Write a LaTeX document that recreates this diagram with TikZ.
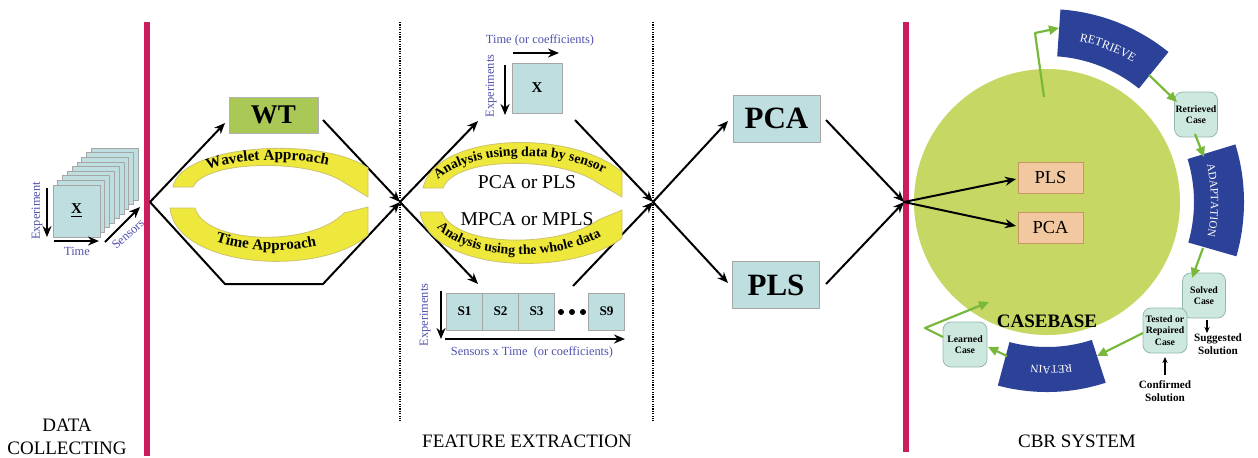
\documentclass[tikz,border=0pt]{standalone}
\usepackage{fontspec}
\setmainfont{Liberation Serif}
\usetikzlibrary{arrows.meta,decorations.text,calc}
\definecolor{barred}{RGB}{204,28,94}
\definecolor{boxblue}{RGB}{190,222,224}
\definecolor{wtgreen}{RGB}{170,200,85}
\definecolor{ylw}{RGB}{238,232,60}
\definecolor{ylwedge}{RGB}{205,195,110}
\definecolor{lblblue}{RGB}{80,80,175}
\definecolor{cbgreen}{RGB}{198,215,100}
\definecolor{sectblue}{RGB}{44,66,152}
\definecolor{casefill}{RGB}{205,232,222}
\definecolor{caseedge}{RGB}{150,185,170}
\definecolor{arrgreen}{RGB}{120,185,60}
\definecolor{peach}{RGB}{242,200,160}
\definecolor{peachedge}{RGB}{200,150,100}
\newcommand{\myfs}[2]{\fontsize{#1pt}{#2pt}\selectfont}
\begin{document}
\begin{tikzpicture}[x=0.5pt,y=-0.5pt,line join=round,
  conn/.style={line width=1pt,-{Stealth[length=5.5pt,width=4.5pt]}},
  thinarrow/.style={line width=0.6pt,-{Stealth[length=3pt,width=2.6pt]}},
  garrow/.style={draw=arrgreen,line width=1.1pt,-{Triangle[length=5pt,width=4.5pt]}},
  bbox/.style={draw=gray!70,fill=boxblue,inner sep=0pt},
  lbl/.style={text=lblblue,font=\myfs{6.2}{7},inner sep=0pt},
  ylwshape/.style={fill=ylw,draw=ylwedge,line width=0.4pt},
  casebox/.style={draw=caseedge,fill=casefill,rounded corners=4pt,inner sep=0pt,
     minimum width=21.5pt,minimum height=22.5pt,align=center,font=\bfseries\myfs{4.9}{5.6}},
  peachbox/.style={draw=peachedge,fill=peach,inner sep=0pt,minimum width=32.5pt,minimum height=15.5pt,font=\myfs{9.2}{10}},
  bigbox/.style={bbox,minimum width=43.5pt,minimum height=23.5pt,font=\bfseries\myfs{15.5}{16}},
  sbox/.style={bbox,minimum width=18pt,minimum height=18.5pt,font=\bfseries\myfs{6.6}{7}},
  dotc/.style={circle,fill=black,inner sep=0pt,minimum size=3pt},
  title/.style={font=\myfs{9.5}{11.5},align=center,inner sep=0pt},
  sect/.style={fill=sectblue}
]
\useasboundingbox (0,0) rectangle (1258,457);
\fill[white] (0,0) rectangle (1258,457);

% separators
\draw[barred,line width=3pt] (147,22) -- (147,456);
\draw[barred,line width=3pt] (906,22) -- (906,452);
\draw[line width=1pt,dash pattern=on 0.6pt off 0.6pt] (400,22) -- (400,421);
\draw[line width=1pt,dash pattern=on 0.6pt off 0.6pt] (653,22) -- (653,421);

% data stack
\foreach \i in {8,7,...,1}
  \draw[draw=gray!70,fill=boxblue] (53+4.8*\i,185-4.6*\i) rectangle ++(47,52);
\node[bbox,minimum width=23.5pt,minimum height=26pt,font=\bfseries\myfs{7.5}{8}] (xs) at (76.5,211) {\underline{X}};
\coordinate (ea) at (47,188); \coordinate (eb) at (47,237);
\draw[conn] (ea) -- (eb);
\coordinate (ta) at (54,241); \coordinate (tb) at (99,241);
\draw[conn] (ta) -- (tb);
\coordinate (sa) at (105,242); \coordinate (sb) at (140,207);
\draw[conn] (sa) -- (sb);
\node[lbl,rotate=90] (lexp) at (37,211) {Experiment};
\node[lbl] (ltime) at (77,251) {Time};
\node[lbl,rotate=42] (lsens) at (128,234) {Sensors};

% vertices
\coordinate (v1) at (150,202);
\coordinate (v2) at (400,202);
\coordinate (v3) at (653,202);
\coordinate (v4) at (904,202);

% WT part
\node[draw=gray!60,fill=wtgreen,minimum width=44.5pt,minimum height=18pt,inner sep=0pt,font=\bfseries\myfs{13.5}{14}] (wt) at (273.5,115) {WT};
\coordinate (wtin) at (225,123); \coordinate (wtout) at (323,120);
\coordinate (b1) at (225,284); \coordinate (b2) at (323,284);
\draw[conn] (v1) -- (wtin);
\draw[conn] (wtout) -- (v2);
\draw[conn] (v1) -- (b1) -- (b2) -- (v2);

\path[ylwshape] (173,187) .. controls (180,145) and (320,135) .. (368,168) -- (368,197) -- (345,183)
   .. controls (310,158) and (205,160) .. (193,187) -- cycle;
\path[ylwshape] (170,208) .. controls (176,268) and (320,278) .. (368,235) -- (368,207) -- (344,213)
   .. controls (310,248) and (205,244) .. (195,208) -- cycle;
\path[decorate,decoration={text along path,text align=center,
   text={|\bfseries\myfs{7.6}{8}|Wavelet Approach}}]
   (180,192) .. controls (195,154) and (318,150) .. (362,178);
\path[decorate,decoration={text along path,text align=center,
   text={|\bfseries\myfs{7.6}{8}|Time Approach}}]
   (180,210) .. controls (195,260) and (318,260) .. (362,228);

% feature extraction
\node[bbox,minimum width=25pt,minimum height=25pt,font=\bfseries\myfs{7.5}{8}] (xm) at (537,88) {X};
\coordinate (ma) at (513,53); \coordinate (mb) at (559,53);
\draw[conn] (ma) -- (mb);
\node[lbl] (ltc) at (540,40) {Time (or coefficients)};
\coordinate (mc) at (505,65); \coordinate (md) at (505,115);
\draw[conn] (mc) -- (md);
\node[lbl,rotate=90] (lexm) at (491,86) {Experiments};

\coordinate (xin) at (478,121); \coordinate (xout) at (575,120);
\coordinate (sin) at (478,284); \coordinate (sout) at (573,286);
\draw[conn] (v2) -- (xin);
\draw[conn] (xout) -- (v3);
\draw[conn] (v2) -- (sin);
\draw[conn] (sout) -- (v3);

\path[ylwshape] (423,188) .. controls (435,133) and (570,128) .. (622,172) -- (622,197) -- (598,183)
   .. controls (560,156) and (455,156) .. (443,188) -- cycle;
\path[ylwshape] (420,212) .. controls (430,272) and (570,278) .. (622,238) -- (622,210) -- (598,220)
   .. controls (560,248) and (455,248) .. (442,212) -- cycle;
\path[decorate,decoration={text along path,text align=center,
   text={|\bfseries\myfs{6.9}{8}|Analysis using data by sensor}}]
   (430,192) .. controls (445,148) and (572,144) .. (616,182);
\path[decorate,decoration={text along path,text align=center,
   text={|\bfseries\myfs{6.9}{8}|Analysis using the whole data}}]
   (428,212) .. controls (445,266) and (572,266) .. (616,226);
\node[font=\myfs{9.8}{10},inner sep=0pt] (pcapls) at (527,182) {PCA or PLS};
\node[font=\myfs{9.8}{10},inner sep=0pt] (mpca) at (527,219) {MPCA or MPLS};

\node[sbox] (s1) at (464.5,311.5) {S1};
\node[sbox] (s2) at (500.5,311.5) {S2};
\node[sbox] (s3) at (536.5,311.5) {S3};
\node[sbox] (s9) at (606.5,311.5) {S9};
\node[dotc] (d1) at (561,312) {};
\node[dotc] (d2) at (572,312) {};
\node[dotc] (d3) at (583,312) {};
\coordinate (ba) at (441,291); \coordinate (bb) at (441,339);
\draw[conn] (ba) -- (bb);
\coordinate (bc) at (445,339); \coordinate (bd) at (625,339);
\draw[conn] (bc) -- (bd);
\node[lbl,rotate=90] (lexb) at (425,315) {Experiments};
\node[lbl] (lst) at (532,352) {Sensors x Time~~(or coefficients)};

% PCA / PLS
\node[bigbox] (pca) at (776.5,118.5) {PCA};
\node[bigbox] (pls) at (776,285) {PLS};
\coordinate (pcain) at (728,121); \coordinate (pcaout) at (826,120);
\coordinate (plsin) at (728,283); \coordinate (plsout) at (826,284);
\draw[conn] (v3) -- (pcain);
\draw[conn] (v3) -- (plsin);
\draw[conn] (pcaout) -- (v4);
\draw[conn] (plsout) -- (v4);

% CBR
\coordinate (cc) at (1047,202);
\node[circle,fill=cbgreen,minimum size=133pt,inner sep=0pt] (cb) at (cc) {};
\fill[sect] ($(cc)+(-86:146)$) arc[start angle=-86,end angle=-51,radius=146]
   -- ($(cc)+(-51:193)$) arc[start angle=-51,end angle=-86,radius=193] -- cycle;
\fill[sect] ($(cc)+(-17:147)$) arc[start angle=-17,end angle=16,radius=147]
   -- ($(cc)+(16:197)$) arc[start angle=16,end angle=-17,radius=197] -- cycle;
\fill[sect] ($(cc)+(72:145)$) arc[start angle=72,end angle=105,radius=145]
   -- ($(cc)+(105:190)$) arc[start angle=105,end angle=72,radius=190] -- cycle;
\path[decorate,decoration={text along path,text align=center,
   text={|\color{white}\myfs{6}{6}|RETRIEVE}}]
   ($(cc)+(-88:164)$) arc[start angle=-88,end angle=-49,radius=164];
\path[decorate,decoration={text along path,text align=center,
   text={|\color{white}\myfs{5.6}{6}|ADAPTATION}}]
   ($(cc)+(-19:164)$) arc[start angle=-19,end angle=18,radius=164];
\path[decorate,decoration={text along path,text align=center,
   text={|\color{white}\myfs{5.6}{6}|RETAIN}}]
   ($(cc)+(70:164)$) arc[start angle=70,end angle=107,radius=164];

\node[peachbox] (ppls) at (1050.5,177.5) {PLS};
\node[peachbox] (ppca) at (1050.5,227.5) {PCA};
\coordinate (pplsin) at (1016,179); \coordinate (ppcain) at (1016,226);
\draw[conn] (v4) -- (pplsin);
\draw[conn] (v4) -- (ppcain);
\node[font=\bfseries\myfs{9.5}{10},inner sep=0pt] (casebase) at (1047,321) {CASEBASE};

\node[casebox] (rc) at (1196,114.5) {Retrieved\\Case};
\node[casebox] (sc) at (1204,295.5) {Solved\\Case};
\node[casebox,minimum width=22pt] (tc) at (1165,330.5) {Tested or\\Repaired\\Case};
\node[casebox,minimum width=22pt] (lc) at (965,344.5) {Learned\\Case};

\coordinate (g0) at (1044,97); \coordinate (g1) at (1035,33); \coordinate (rtin) at (1059,28);
\draw[garrow] (g0) -- (g1) -- (rtin);
\coordinate (rtout) at (1149,75); \coordinate (rcin) at (1177,102);
\draw[garrow] (rtout) -- (rcin);
\coordinate (rcout) at (1195,134); \coordinate (adin) at (1204,157);
\draw[garrow] (rcout) -- (adin);
\coordinate (adout) at (1203,248); \coordinate (scin) at (1192,278);
\draw[garrow] (adout) -- (scin);
\coordinate (tcout) at (1143,333); \coordinate (rtnin) at (1097,356);
\draw[garrow] (tcout) -- (rtnin);
\coordinate (rtnout) at (1007,356); \coordinate (lcin) at (988,347);
\draw[garrow] (rtnout) -- (lcin);
\coordinate (lcout) at (943,337); \coordinate (lcb) at (925,328); \coordinate (cbin) at (989,302);
\draw[garrow] (lcout) -- (lcb) -- (cbin);

\node[font=\bfseries\myfs{5.6}{6.2},align=center,inner sep=0pt] (sugg) at (1218,344) {Suggested\\Solution};
\node[font=\bfseries\myfs{5.6}{6.2},align=center,inner sep=0pt] (conf) at (1165,391) {Confirmed\\Solution};
\coordinate (sa1) at (1207,320); \coordinate (sa2) at (1207,333);
\draw[thinarrow] (sa1) -- (sa2);
\coordinate (ca1) at (1165,375); \coordinate (ca2) at (1165,357);
\draw[thinarrow] (ca1) -- (ca2);

% section titles
\node[title] (t1) at (67,437) {DATA\\COLLECTING};
\node[title] (t2) at (527,441) {FEATURE EXTRACTION};
\node[title] (t3) at (1077,441) {CBR SYSTEM};
\end{tikzpicture}
\end{document}
